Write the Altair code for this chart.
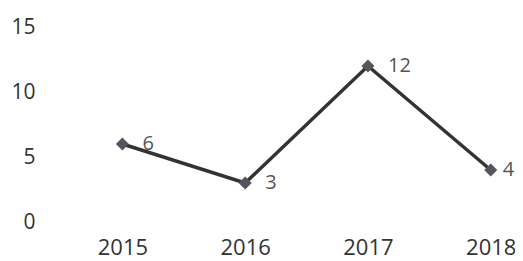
import altair as alt
import pandas as pd

years = [2015, 2016, 2017, 2018]
values = [6, 3, 12, 4]
labels = ["6", "3", "12", "4"]

df = pd.DataFrame({"year": years, "value": values, "label": labels})

FONT = "Open Sans"

x = alt.X("year:Q", scale=alt.Scale(domain=[2014.5, 2018.1], nice=False, zero=False),
          axis=alt.Axis(values=years, format="d", title=None, grid=False, domain=False,
                        ticks=False, tickSize=0, labelPadding=15, labelFontSize=22,
                        labelFont=FONT, labelColor="#333333", labelFlush=False))
y = alt.Y("value:Q", scale=alt.Scale(domain=[0, 15], nice=False),
          axis=alt.Axis(values=[0, 5, 10, 15], title=None, grid=False, domain=False,
                        ticks=False, tickSize=0, labelPadding=26, labelFontSize=21,
                        labelFont=FONT, labelColor="#333333"))

base = alt.Chart(df).encode(x=x, y=y)

line = base.mark_line(color="#333333", strokeWidth=3.5)
points = base.mark_point(shape="diamond", filled=True, size=170, color="#55555f", opacity=1)
text_main = base.transform_filter(alt.datum.year < 2018).mark_text(
    align="left", baseline="middle", dx=20, dy=0, fontSize=20,
    font=FONT, color="#555555").encode(text="label:N")
text_last = base.transform_filter(alt.datum.year >= 2018).mark_text(
    align="left", baseline="middle", dx=12, dy=0, fontSize=20,
    font=FONT, color="#555555").encode(text="label:N")

chart = (line + points + text_main + text_last).properties(
    width=442, height=195,
    background="white",
    autosize=alt.AutoSizeParams(type="none"),
    padding={"left": 53, "top": 19, "right": 12, "bottom": 38},
).configure_view(strokeWidth=0, stroke=None)

chart.save("out.html", embed_options={"renderer": "svg", "actions": False})
